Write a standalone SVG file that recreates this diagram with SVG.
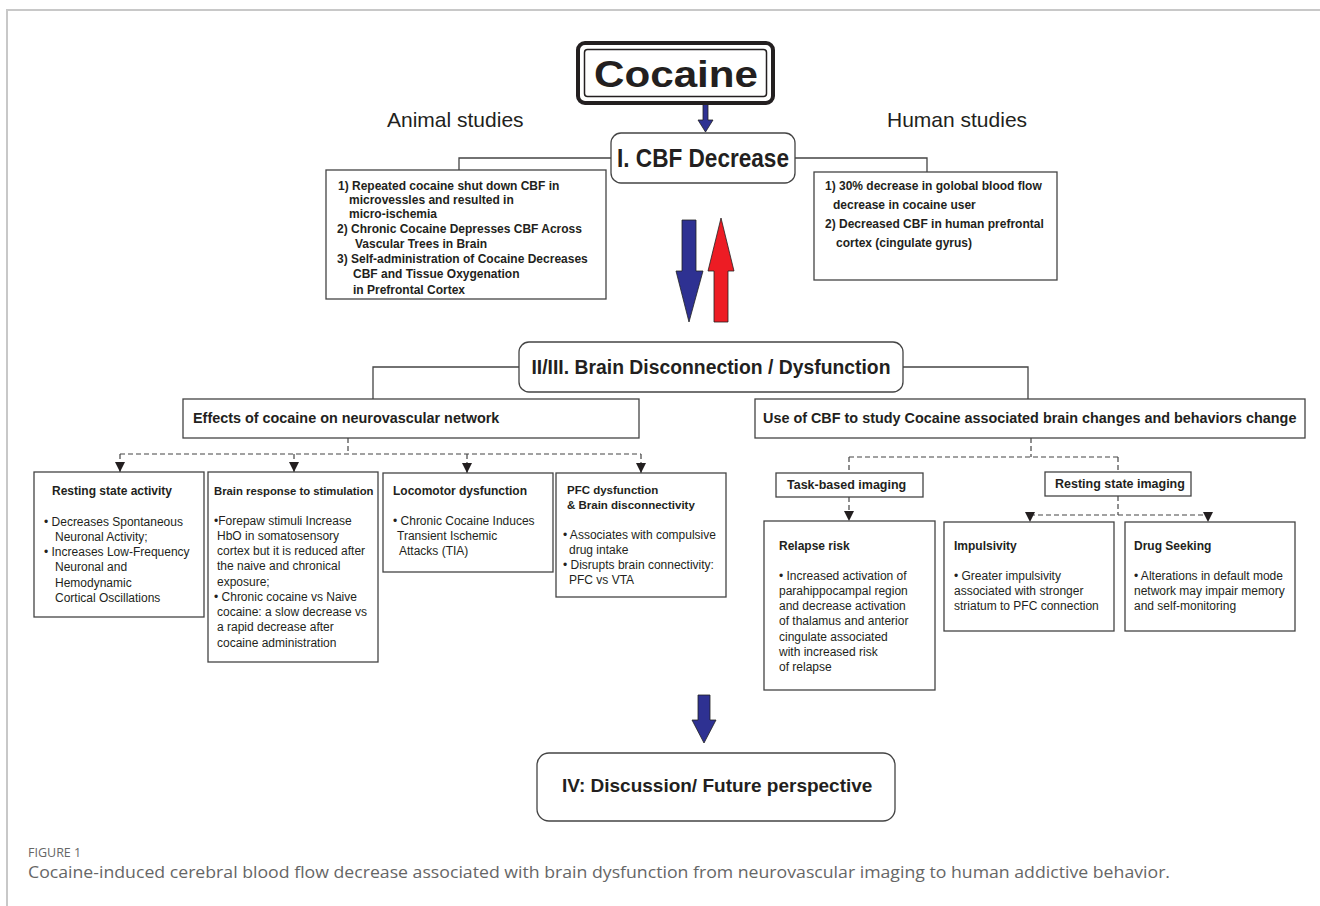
<svg xmlns="http://www.w3.org/2000/svg" width="1320" height="906" viewBox="0 0 1320 906">
<defs>
<style>
text{font-family:"Liberation Sans",Arial,sans-serif;fill:#231f20}
.b{font-weight:bold}
.t12{font-size:12px}
.bx{fill:#fff;stroke:#444;stroke-width:1.3}
.ln{fill:none;stroke:#444;stroke-width:1.3}
.ds{fill:none;stroke:#444;stroke-width:1.2;stroke-dasharray:5 3}
.blue{fill:#2e3192;stroke:#222;stroke-width:0.8}
.red{fill:#ed1c24;stroke:#222;stroke-width:0.8}
.cap{font-family:"Open Sans","Noto Sans",sans-serif;fill:#666}
</style>
<marker id="ah" viewBox="0 0 10 10" refX="10" refY="5" markerWidth="10" markerHeight="11" orient="auto" markerUnits="userSpaceOnUse">
<path d="M0,0 L10,5 L0,10 z" fill="#231f20"/>
</marker>
</defs>
<rect width="1320" height="906" fill="#fff"/>
<path d="M7,906 V10 H1320" fill="none" stroke="#c8c8c8" stroke-width="2"/>

<g id="connectors">
<polygon class="blue" points="703,104 708,104 708,120 713,120 705.5,132 698,120 703,120"/>
<path class="ln" d="M611,158 H459 V170"/>
<path class="ln" d="M795,158 H927 V172"/>
<polygon class="blue" points="682,220 696,220 696,271 703,271 689,322 676,271 682,271"/>
<polygon class="red" points="721,218 734,271 728,271 728,322 714,322 714,271 708,271"/>
<path class="ln" d="M519,367 H373 V399"/>
<path class="ln" d="M903,367 H1028 V399"/>
<path class="ds" d="M348,438 V454 M120,454 H641"/>
<path class="ds" d="M120,454 V472" marker-end="url(#ah)"/>
<path class="ds" d="M294,454 V472" marker-end="url(#ah)"/>
<path class="ds" d="M467,454 V473" marker-end="url(#ah)"/>
<path class="ds" d="M641,454 V473" marker-end="url(#ah)"/>
<path class="ds" d="M1031,438 V457 M849,457 H1118 M849,457 V473 M1118,457 V472"/>
<path class="ds" d="M849,497 V521" marker-end="url(#ah)"/>
<path class="ds" d="M1118,496 V515 M1030,515 H1208"/>
<path class="ds" d="M1030,515 V522" marker-end="url(#ah)"/>
<path class="ds" d="M1208,515 V522" marker-end="url(#ah)"/>
<polygon class="blue" points="698,695 710,695 710,720 716,720 704,743 692,720 698,720"/>
</g>

<g id="cocaine">
<rect x="578" y="43" width="195" height="60" rx="7" fill="#fff" stroke="#231f20" stroke-width="4"/>
<rect x="584.5" y="49.5" width="182" height="47" rx="3" fill="none" stroke="#231f20" stroke-width="1.5"/>
<text x="676" y="87" text-anchor="middle" class="b" font-size="37" textLength="164" lengthAdjust="spacingAndGlyphs">Cocaine</text>
</g>

<g id="animal-label"><text x="387" y="127" font-size="21">Animal studies</text></g>
<g id="human-label"><text x="887" y="127" font-size="21">Human studies</text></g>

<g id="cbf">
<rect class="bx" x="611" y="133" width="184" height="50" rx="10"/>
<text x="703" y="167" text-anchor="middle" class="b" font-size="25" textLength="172" lengthAdjust="spacingAndGlyphs">I. CBF Decrease</text>
</g>

<g id="animal" class="t12">
<rect class="bx" x="326" y="170" width="280" height="129"/>
<text class="b t12" x="338" y="190">1) Repeated cocaine shut down CBF in</text>
<text class="b t12" x="349" y="204">microvessles and resulted in</text>
<text class="b t12" x="349" y="218">micro-ischemia</text>
<text class="b t12" x="337" y="233">2) Chronic Cocaine Depresses CBF Across</text>
<text class="b t12" x="355" y="248">Vascular Trees in Brain</text>
<text class="b t12" x="337" y="263">3) Self-administration of Cocaine Decreases</text>
<text class="b t12" x="353" y="278">CBF and Tissue Oxygenation</text>
<text class="b t12" x="353" y="294">in Prefrontal Cortex</text>
</g>

<g id="human">
<rect class="bx" x="814" y="172" width="243" height="108"/>
<text class="b t12" x="825" y="190">1) 30% decrease in golobal blood flow</text>
<text class="b t12" x="833" y="209">decrease in cocaine user</text>
<text class="b t12" x="825" y="228">2) Decreased CBF in human prefrontal</text>
<text class="b t12" x="836" y="247">cortex (cingulate gyrus)</text>
</g>

<g id="brain">
<rect class="bx" x="519" y="342" width="384" height="50" rx="10"/>
<text x="711" y="374" text-anchor="middle" class="b" font-size="20" textLength="359" lengthAdjust="spacingAndGlyphs">II/III. Brain Disconnection / Dysfunction</text>
</g>

<g id="effects">
<rect class="bx" x="183" y="399" width="456" height="39"/>
<text x="193" y="423" class="b" font-size="14.4">Effects of cocaine on neurovascular network</text>
</g>

<g id="usecbf">
<rect class="bx" x="755" y="399" width="550" height="39"/>
<text x="763" y="423" class="b" font-size="14.4">Use of CBF to study Cocaine associated brain changes and behaviors change</text>
</g>

<g id="resting-activity">
<rect class="bx" x="34" y="472" width="170" height="145"/>
<text class="b t12" x="52" y="495">Resting state activity</text>
<text class="t12" x="44" y="526">• Decreases Spontaneous</text>
<text class="t12" x="55" y="541">Neuronal Activity;</text>
<text class="t12" x="44" y="556">• Increases Low-Frequency</text>
<text class="t12" x="55" y="571">Neuronal and</text>
<text class="t12" x="55" y="587">Hemodynamic</text>
<text class="t12" x="55" y="602">Cortical Oscillations</text>
</g>

<g id="brain-response">
<rect class="bx" x="208" y="472" width="170" height="190"/>
<text class="b" font-size="11.3" x="214" y="495">Brain response to stimulation</text>
<text class="t12" x="214" y="525">•Forepaw stimuli Increase</text>
<text class="t12" x="217" y="540">HbO in somatosensory</text>
<text class="t12" x="217" y="555">cortex but it is reduced after</text>
<text class="t12" x="217" y="570">the naive and chronical</text>
<text class="t12" x="217" y="586">exposure;</text>
<text class="t12" x="214" y="601">• Chronic cocaine vs Naive</text>
<text class="t12" x="217" y="616">cocaine: a slow decrease vs</text>
<text class="t12" x="217" y="631">a rapid decrease after</text>
<text class="t12" x="217" y="647">cocaine administration</text>
</g>

<g id="locomotor">
<rect class="bx" x="383" y="473" width="170" height="99"/>
<text class="b t12" x="393" y="495">Locomotor dysfunction</text>
<text class="t12" x="393" y="525">• Chronic Cocaine Induces</text>
<text class="t12" x="397" y="540">Transient Ischemic</text>
<text class="t12" x="399" y="555">Attacks (TIA)</text>
</g>

<g id="pfc">
<rect class="bx" x="556" y="473" width="170" height="124"/>
<text class="b" font-size="11.5" x="567" y="494">PFC dysfunction</text>
<text class="b" font-size="11.5" x="567" y="509">&amp; Brain disconnectivity</text>
<text class="t12" x="563" y="539">• Associates with compulsive</text>
<text class="t12" x="569" y="554">drug intake</text>
<text class="t12" x="563" y="569">• Disrupts brain connectivity:</text>
<text class="t12" x="569" y="584">PFC vs VTA</text>
</g>

<g id="task">
<rect class="bx" x="776" y="473" width="147" height="24"/>
<text class="b" font-size="12.5" x="787" y="489">Task-based imaging</text>
</g>

<g id="resting-imaging">
<rect class="bx" x="1045" y="472" width="146" height="24"/>
<text class="b" font-size="12.5" x="1055" y="488">Resting state imaging</text>
</g>

<g id="relapse">
<rect class="bx" x="764" y="521" width="171" height="169"/>
<text class="b t12" x="779" y="550">Relapse risk</text>
<text class="t12" x="779" y="580">• Increased activation of</text>
<text class="t12" x="779" y="595">parahippocampal region</text>
<text class="t12" x="779" y="610">and decrease activation</text>
<text class="t12" x="779" y="625">of thalamus and anterior</text>
<text class="t12" x="779" y="641">cingulate associated</text>
<text class="t12" x="779" y="656">with increased risk</text>
<text class="t12" x="779" y="671">of relapse</text>
</g>

<g id="impulsivity">
<rect class="bx" x="944" y="522" width="170" height="109"/>
<text class="b t12" x="954" y="550">Impulsivity</text>
<text class="t12" x="954" y="580">• Greater impulsivity</text>
<text class="t12" x="954" y="595">associated with stronger</text>
<text class="t12" x="954" y="610">striatum to PFC connection</text>
</g>

<g id="drug-seeking">
<rect class="bx" x="1125" y="522" width="170" height="109"/>
<text class="b t12" x="1134" y="550">Drug Seeking</text>
<text class="t12" x="1134" y="580">• Alterations in default mode</text>
<text class="t12" x="1134" y="595">network may impair memory</text>
<text class="t12" x="1134" y="610">and self-monitoring</text>
</g>

<g id="discussion">
<rect class="bx" x="537" y="753" width="358" height="68" rx="12"/>
<text class="b" font-size="19" x="562" y="792">IV: Discussion/ Future perspective</text>
</g>

<g id="caption">
<text class="cap" x="28" y="857" font-size="12.5">FIGURE 1</text>
<text class="cap" x="28" y="878" font-size="16" textLength="1142" lengthAdjust="spacingAndGlyphs">Cocaine-induced cerebral blood flow decrease associated with brain dysfunction from neurovascular imaging to human addictive behavior.</text>
</g>
</svg>
